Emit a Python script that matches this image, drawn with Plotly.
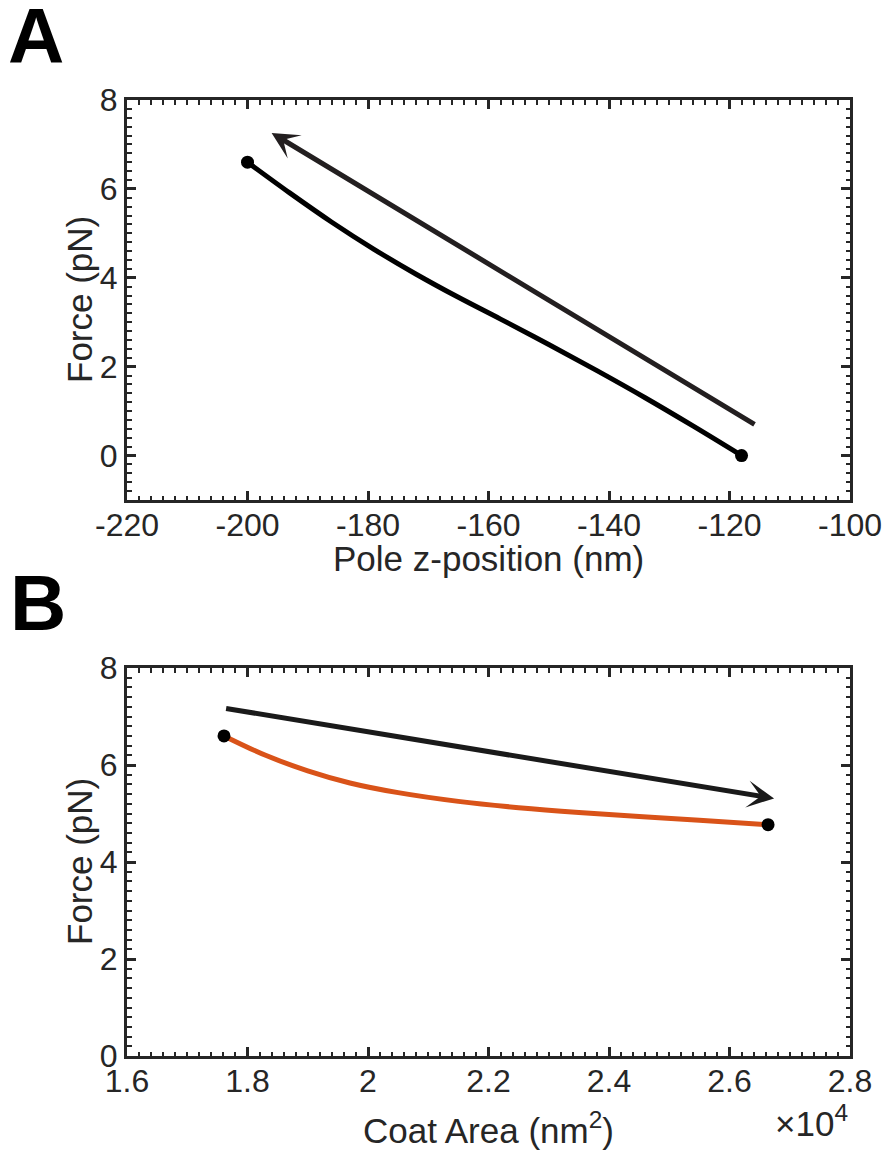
import plotly.graph_objects as go

# ---------------- data ----------------
# Panel A: force vs pole z-position
POLE_Z = [-200, -193, -186, -179, -172, -165, -158, -150, -142, -134, -126, -118]
FORCE_A = [6.60, 5.91, 5.25, 4.64, 4.08, 3.56, 3.07, 2.50, 1.91, 1.30, 0.66, 0.00]
ARROW_A_TAIL = (-115.6, 0.68)
ARROW_A_HEAD = (-196.0, 7.26)
XA_TICKS = [-220, -200, -180, -160, -140, -120, -100]
XA_LABELS = ["-220", "-200", "-180", "-160", "-140", "-120", "-100"]
YA_TICKS = [0, 2, 4, 6, 8]

# Panel B: force vs coat area (nm^2)
COAT_AREA = [17610, 18300, 19000, 19700, 20500, 21500, 22500, 23500, 24500, 25500, 26640]
FORCE_B = [6.60, 6.20, 5.88, 5.63, 5.43, 5.25, 5.12, 5.02, 4.94, 4.86, 4.77]
ARROW_B_TAIL = (17620, 7.17)
ARROW_B_HEAD = (26740, 5.31)
XB_TICKS = [16000, 18000, 20000, 22000, 24000, 26000, 28000]
XB_LABELS = ["1.6", "1.8", "2", "2.2", "2.4", "2.6", "2.8"]
YB_TICKS = [0, 2, 4, 6, 8]

# text
X_TITLE_A = "Pole z-position (nm)"
X_TITLE_B = "Coat Area (nm<sup>2</sup>)"
Y_TITLE = "Force (pN)"
X_EXPONENT_B = "×10<sup>4</sup>"

W, H = 886, 1150
AX_COLOR = "#262626"
FONT = "Liberation Sans, Arial, Helvetica, sans-serif"
TICK_SIZE = 32
LABEL_SIZE = 35


def px_x(p):
    return p / W


def px_y(p):
    return 1 - p / H


fig = go.Figure()

fig.add_trace(go.Scatter(x=POLE_Z, y=FORCE_A, mode="lines",
                         line=dict(color="black", width=5, shape="spline", smoothing=1.0),
                         xaxis="x", yaxis="y", showlegend=False, hoverinfo="skip"))
fig.add_trace(go.Scatter(x=[POLE_Z[0], POLE_Z[-1]], y=[FORCE_A[0], FORCE_A[-1]], mode="markers",
                         marker=dict(color="black", size=13),
                         xaxis="x", yaxis="y", showlegend=False))

fig.add_trace(go.Scatter(x=COAT_AREA, y=FORCE_B, mode="lines",
                         line=dict(color="#D95319", width=5, shape="spline", smoothing=1.0),
                         xaxis="x2", yaxis="y2", showlegend=False, hoverinfo="skip"))
fig.add_trace(go.Scatter(x=[COAT_AREA[0], COAT_AREA[-1]], y=[FORCE_B[0], FORCE_B[-1]], mode="markers",
                         marker=dict(color="black", size=13),
                         xaxis="x2", yaxis="y2", showlegend=False))

common = dict(showline=True, mirror="ticks", linecolor=AX_COLOR, linewidth=3,
              ticks="inside", ticklen=9, tickwidth=2.5, tickcolor=AX_COLOR,
              showgrid=False, zeroline=False, automargin=False,
              tickfont=dict(family=FONT, size=TICK_SIZE, color=AX_COLOR))

fig.update_layout(
    width=W, height=H,
    margin=dict(l=0, r=0, t=0, b=0, pad=0),
    paper_bgcolor="white", plot_bgcolor="white",
    xaxis=dict(domain=[px_x(127), px_x(850)], range=[-220, -100],
               tickvals=XA_TICKS, ticktext=XA_LABELS, anchor="y", ticklabelstandoff=-5,
               minor=dict(dtick=2, ticklen=4.5, tickwidth=2, ticks="inside", tickcolor=AX_COLOR),
               **common),
    yaxis=dict(domain=[px_y(500), px_y(100)], range=[-1, 8],
               tickvals=YA_TICKS, anchor="x",
               minor=dict(dtick=0.2, ticklen=4.5, tickwidth=2, ticks="inside", tickcolor=AX_COLOR),
               **common),
    xaxis2=dict(domain=[px_x(127), px_x(850)], range=[16000, 28000],
                tickvals=XB_TICKS, ticktext=XB_LABELS, anchor="y2", ticklabelstandoff=-5,
                minor=dict(dtick=200, ticklen=4.5, tickwidth=2, ticks="inside", tickcolor=AX_COLOR),
                **common),
    yaxis2=dict(domain=[px_y(1056), px_y(668)], range=[0, 8],
                tickvals=YB_TICKS, anchor="x2",
                minor=dict(dtick=0.2, ticklen=4.5, tickwidth=2, ticks="inside", tickcolor=AX_COLOR),
                **common),
)

label_font = dict(family=FONT, size=LABEL_SIZE, color=AX_COLOR)
annotations = [
    dict(x=ARROW_A_HEAD[0], y=ARROW_A_HEAD[1], ax=ARROW_A_TAIL[0], ay=ARROW_A_TAIL[1],
         xref="x", yref="y", axref="x", ayref="y", text="", showarrow=True,
         arrowhead=3, arrowsize=0.9, arrowwidth=5, arrowcolor="#231F20"),
    dict(x=ARROW_B_HEAD[0], y=ARROW_B_HEAD[1], ax=ARROW_B_TAIL[0], ay=ARROW_B_TAIL[1],
         xref="x2", yref="y2", axref="x2", ayref="y2", text="", showarrow=True,
         arrowhead=3, arrowsize=0.9, arrowwidth=5, arrowcolor="#1A1A1A"),
    # axis titles
    dict(x=px_x(488.5), y=px_y(558), xref="paper", yref="paper", xanchor="center", yanchor="middle",
         text=X_TITLE_A, showarrow=False, font=label_font),
    dict(x=px_x(79), y=px_y(300), xref="paper", yref="paper", xanchor="center", yanchor="middle",
         text=Y_TITLE, textangle=-90, showarrow=False, font=label_font),
    dict(x=px_x(488.5), y=px_y(1128), xref="paper", yref="paper", xanchor="center", yanchor="middle",
         text=X_TITLE_B, showarrow=False, font=label_font),
    dict(x=px_x(79), y=px_y(862), xref="paper", yref="paper", xanchor="center", yanchor="middle",
         text=Y_TITLE, textangle=-90, showarrow=False, font=label_font),
    # panel letters
    dict(x=px_x(6), y=px_y(36), xref="paper", yref="paper", xanchor="left", yanchor="middle",
         text="<b>A</b>", showarrow=False, font=dict(family=FONT, size=78, color="black")),
    dict(x=px_x(8), y=px_y(603), xref="paper", yref="paper", xanchor="left", yanchor="middle",
         text="<b>B</b>", showarrow=False, font=dict(family=FONT, size=78, color="black")),
    # exponent label
    dict(x=px_x(850), y=px_y(1121), xref="paper", yref="paper", xanchor="right", yanchor="middle",
         text=X_EXPONENT_B, showarrow=False, font=dict(family=FONT, size=35, color=AX_COLOR)),
]
fig.update_layout(annotations=annotations)

fig.write_html("out.html")
